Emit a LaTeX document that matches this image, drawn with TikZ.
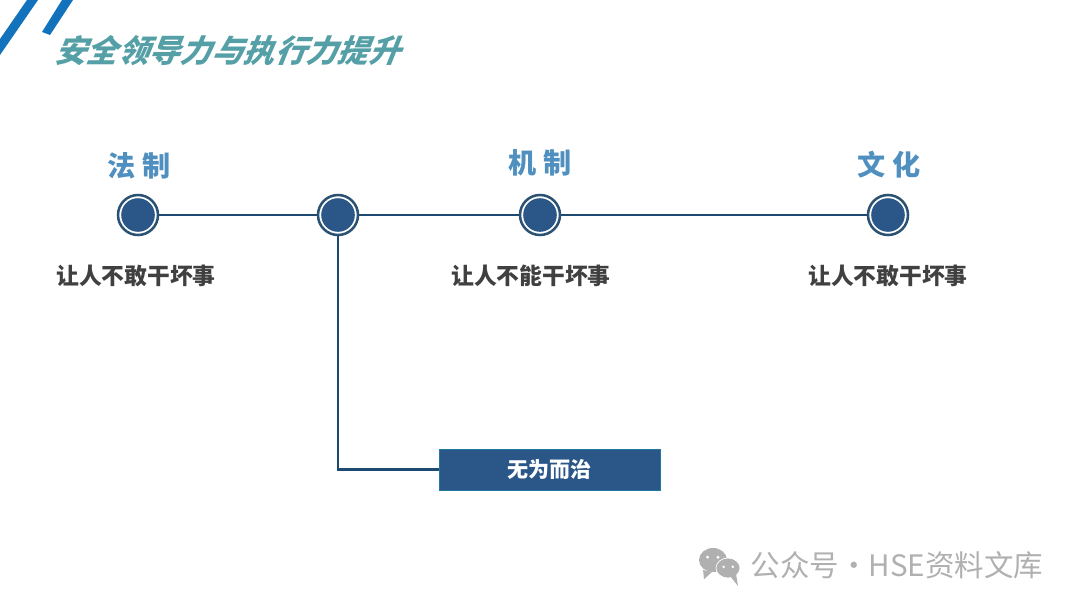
\documentclass[tikz,border=0pt]{standalone}
\usepackage{fontspec}
\usepackage{xcolor}
\setmainfont{Noto Sans CJK SC}
\newfontfamily\slantfont[FakeSlant=0.4,BoldFeatures={FakeSlant=0.4}]{Noto Sans CJK SC}
\usetikzlibrary{positioning}
\definecolor{dotblue}{HTML}{2A5788}
\definecolor{ringblue}{HTML}{2C5273}
\definecolor{lineblue}{HTML}{1C4A70}
\definecolor{stripeblue}{HTML}{1272BC}
\definecolor{headblue}{HTML}{5090C0}
\definecolor{titleteal}{HTML}{559FA6}
\definecolor{markgray}{HTML}{B0B0B0}

\begin{document}
\begin{tikzpicture}[
    dot/.style={circle, draw=ringblue, fill=white, line width=1.8pt, inner sep=0pt,
                minimum size=1cm,
                path picture={\fill[dotblue] (path picture bounding box.center) circle (0.42);}},
    head/.style={font=\fontsize{20}{23}\selectfont\bfseries, text=headblue},
    sub/.style={font=\fontsize{16.2}{19}\selectfont\bfseries, text=black!75},
    tag/.style={rectangle, fill=dotblue, draw=dotblue!80!cyan, text=white, inner sep=0pt,
                font=\fontsize{15}{18}\selectfont\bfseries,
                minimum width=5.525cm, minimum height=1.025cm},
    link/.style={draw=lineblue, line width=1.9pt},
    stripe/.style={fill=stripeblue},
    wmark/.style={font=\fontsize{21}{24}\selectfont, text=markgray}]
  \useasboundingbox (0,0) rectangle (27,15.2);
  \fill[stripe] (0.675,15.2) -- (0.95,15.2) -- (0,13.825) -- (0,14.225) -- cycle;
  \fill[stripe] (1.55,15.2) -- (1.825,15.2) -- (1.25,14.325) -- (1.05,14.4) -- cycle;
  \node[font=\slantfont\bfseries\fontsize{22.3}{26}\selectfont, text=titleteal] (title) at (5.675,13.925) {安全领导力与执行力提升};
  \node[dot] (fazhi) at (3.45,9.825) {};
  \node[dot] (wuwei) at (8.45,9.825) {};
  \node[dot] (jizhi) at (13.5,9.825) {};
  \node[dot] (wenhua) at (22.2,9.825) {};
  \node[head] (fazhihead) at (3.475,11.05) {法 制};
  \node[head] (jizhihead) at (13.5,11.125) {机 制};
  \node[head] (wenhuahead) at (22.225,11.075) {文 化};
  \node[sub] (fazhisub) at (3.4,8.3) {让人不敢干坏事};
  \node[sub] (jizhisub) at (13.275,8.3) {让人不能干坏事};
  \node[sub] (wenhuasub) at (22.2,8.3) {让人不敢干坏事};
  \node[tag] (wuweitag) at (13.74,3.46) {无为而治};
  \draw[link] (fazhi) -- (wuwei);
  \draw[link] (wuwei) -- (jizhi);
  \draw[link] (jizhi) -- (wenhua);
  \draw[link] (wuwei) |- (wuweitag);
  \fill[markgray] (17.825,1.2) ellipse (0.35 and 0.3);
  \fill[markgray] (17.575,0.95) -- (17.6,0.72) -- (17.8,0.9) -- cycle;
  \fill[white] (17.69,1.27) circle (0.04) (17.95,1.27) circle (0.04);
  \fill[markgray, draw=white, line width=0.5pt] (18.2,1.0) ellipse (0.3 and 0.25);
  \fill[markgray] (18.25,0.8) -- (18.45,0.55) -- (18.4,0.85) -- cycle;
  \fill[white] (18.09,1.03) circle (0.035) (18.32,1.03) circle (0.035);
  \node[wmark] (wechat) at (22.425,1.075) {公众号·HSE资料文库};
\end{tikzpicture}
\end{document}
